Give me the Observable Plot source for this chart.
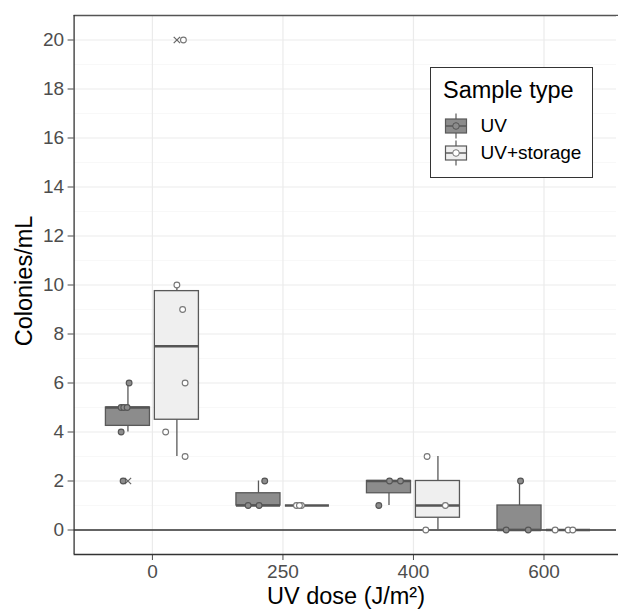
<!DOCTYPE html>
<html><head><meta charset="utf-8">
<script src="https://cdn.jsdelivr.net/npm/d3@7"></script>
<script src="https://cdn.jsdelivr.net/npm/@observablehq/plot@0.6"></script>
<style>
html,body{margin:0;padding:0;background:#fff;overflow:hidden;font-family:"Liberation Sans",Arial,Helvetica,sans-serif;}
#wrap{position:relative;width:618px;height:616px;overflow:hidden;background:#fff;}
#wrap svg{position:absolute;left:0;top:0;overflow:hidden;}
.ylab{position:absolute;left:25px;top:281px;font-size:23.5px;line-height:1;color:#000;white-space:nowrap;transform:translate(-50%,-50%) rotate(-90deg);}
.xlab{position:absolute;left:346px;top:585px;font-size:23.5px;line-height:1;color:#000;white-space:nowrap;transform:translateX(-50%);}
#edge{position:absolute;left:615.5px;top:16.2px;width:3px;height:536.8px;background:#fff;}
#legend{position:absolute;left:429.5px;top:66.7px;width:163px;height:111.5px;border:1.3px solid #333;background:#fff;box-sizing:border-box;}
#legend .title{position:absolute;left:12.5px;top:11px;font-size:23.5px;line-height:1;white-space:nowrap;}
#legend .row{position:absolute;left:13px;height:26px;}
#legend .row svg{position:absolute;left:0;top:0;}
#legend .row span{position:absolute;left:37px;top:3px;font-size:19px;line-height:1;white-space:nowrap;}
</style></head><body><div id="wrap"></div>
<script>
// ---- data ----
const doses = ["0", "250", "400", "600"];
const sampleTypes = ["UV", "UV+storage"];
const uvValues = [[6, 5, 5, 5, 4, 2], [2, 1, 1], [2, 2, 1], [2, 0, 0]];
const storageValues = [[20, 10, 9, 6, 4, 3], [1, 1, 1], [3, 1, 0], [0, 0, 0]];
// horizontal jitter of each point (fraction of a category step)
const uvJitter = [[0.009, -0.052, -0.032, -0.006, -0.052, -0.037], [0.048, -0.079, 0.005], [0.004, 0.088, -0.078], [0.008, -0.102, 0.067]];
const storageJitter = [[0.05, 0.0, 0.044, 0.063, -0.086, 0.063], [-0.084, -0.046, -0.061], [-0.083, 0.057, -0.093], [-0.102, -0.002, 0.033]];
const yTicks = d3.range(0, 21, 2);
const yMinor = d3.range(1, 21, 2);

// ---- styling / layout constants ----
const fills = {"UV": "#8c8c8c", "UV+storage": "#efefef"};
const dotFill = {"UV": "#8c8c8c", "UV+storage": "#ffffff"};
const dotStroke = {"UV": "#555555", "UV+storage": "#777777"};
const dodge = {"UV": -0.1875, "UV+storage": 0.1875};
const halfBox = 0.16875;
const xDomain = [-0.6, 3.6];
const yDomain = [-1, 21];

const series = {"UV": {vals: uvValues, jit: uvJitter}, "UV+storage": {vals: storageValues, jit: storageJitter}};
const points = [], stats = [], outliers = [];
for (const t of sampleTypes) {
  const {vals, jit} = series[t];
  vals.forEach((arr, i) => {
    const c = i + dodge[t];
    arr.forEach((v, j) => points.push({x: c + jit[i][j], y: v, type: t}));
    const s = arr.slice().sort(d3.ascending);
    const q1 = d3.quantile(s, 0.25), med = d3.quantile(s, 0.5), q3 = d3.quantile(s, 0.75);
    const iqr = q3 - q1, lo = q1 - 1.5 * iqr, hi = q3 + 1.5 * iqr;
    const inside = s.filter(v => v >= lo && v <= hi);
    s.filter(v => v < lo || v > hi).forEach(v => outliers.push({x: c, y: v, type: t}));
    stats.push({type: t, c, x1: c - halfBox, x2: c + halfBox, q1, med, q3, wlo: d3.min(inside), whi: d3.max(inside)});
  });
}

// panel runs a few pixels past the right edge of the picture (cropped, as in the reference)
const chart = Plot.plot({
  width: 618, height: 616,
  marginLeft: 73.6, marginRight: -3.8, marginTop: 15, marginBottom: 62,
  x: {domain: xDomain},
  y: {domain: yDomain},
  style: {fontFamily: '"Liberation Sans", Arial, Helvetica, sans-serif', background: "transparent", overflow: "hidden"},
  marks: [
    Plot.ruleY(yMinor, {stroke: "#f4f4f4", strokeWidth: 0.6}),
    Plot.ruleY(yTicks, {stroke: "#ebebeb", strokeWidth: 1.2}),
    Plot.ruleX(d3.range(doses.length), {stroke: "#ebebeb", strokeWidth: 1.2}),
    Plot.ruleY([0], {stroke: "#333333", strokeWidth: 1.3}),
    Plot.ruleX(stats, {x: "c", y1: "q3", y2: "whi", stroke: "#595959", strokeWidth: 1.3}),
    Plot.ruleX(stats, {x: "c", y1: "wlo", y2: "q1", stroke: "#595959", strokeWidth: 1.3}),
    Plot.rect(stats, {x1: "x1", x2: "x2", y1: "q1", y2: "q3", fill: d => fills[d.type], stroke: "#595959", strokeWidth: 1.3}),
    Plot.ruleY(stats, {y: "med", x1: "x1", x2: "x2", stroke: "#555555", strokeWidth: 2.6}),
    Plot.dot(outliers, {x: "x", y: "y", symbol: "times", r: 3, stroke: "#666666", strokeWidth: 1.2}),
    Plot.dot(points, {x: "x", y: "y", r: 2.9, fill: d => dotFill[d.type], stroke: d => dotStroke[d.type], strokeWidth: 1.1}),
    Plot.axisY({ticks: yTicks, tickSize: 6, tickPadding: 4, fontSize: 19, color: "#4d4d4d", label: null}),
    Plot.axisX({ticks: d3.range(doses.length), tickFormat: i => doses[i], tickSize: 6, tickPadding: 4, fontSize: 19, color: "#4d4d4d", label: null}),
    Plot.ruleY([yDomain[1]], {stroke: "#555555", strokeWidth: 1.3}),
    Plot.ruleY([yDomain[0]], {stroke: "#333333", strokeWidth: 1.3}),
    Plot.ruleX([xDomain[0]], {stroke: "#333333", strokeWidth: 1.3})
  ]
});

const wrap = document.getElementById("wrap");
wrap.appendChild(chart);

// the reference panel has no visible right border (it is cut off by the picture edge)
const edge = document.createElement("div");
edge.id = "edge";
wrap.appendChild(edge);

const ylab = document.createElement("div");
ylab.className = "ylab"; ylab.textContent = "Colonies/mL";
wrap.appendChild(ylab);
const xlab = document.createElement("div");
xlab.className = "xlab";
xlab.textContent = "UV dose (J/m²)";
wrap.appendChild(xlab);

// legend
const legend = document.createElement("div");
legend.id = "legend";
legend.innerHTML = '<div class="title">Sample type</div>';
sampleTypes.forEach((t, k) => {
  const row = document.createElement("div");
  row.className = "row";
  row.style.top = (45.5 + k * 27.3) + "px";
  row.innerHTML = `<svg width="24" height="26"><line x1="12" x2="12" y1="0.5" y2="25.5" stroke="#595959" stroke-width="1.2"/><rect x="1.5" y="6" width="21" height="14" fill="${fills[t]}" stroke="#595959" stroke-width="1.2"/><line x1="1.5" x2="22.5" y1="13" y2="13" stroke="#555" stroke-width="1.4"/><circle cx="12" cy="13" r="3.3" fill="${dotFill[t]}" stroke="${dotStroke[t]}" stroke-width="1"/></svg><span>${t}</span>`;
  legend.appendChild(row);
});
wrap.appendChild(legend);
</script>
</body></html>
